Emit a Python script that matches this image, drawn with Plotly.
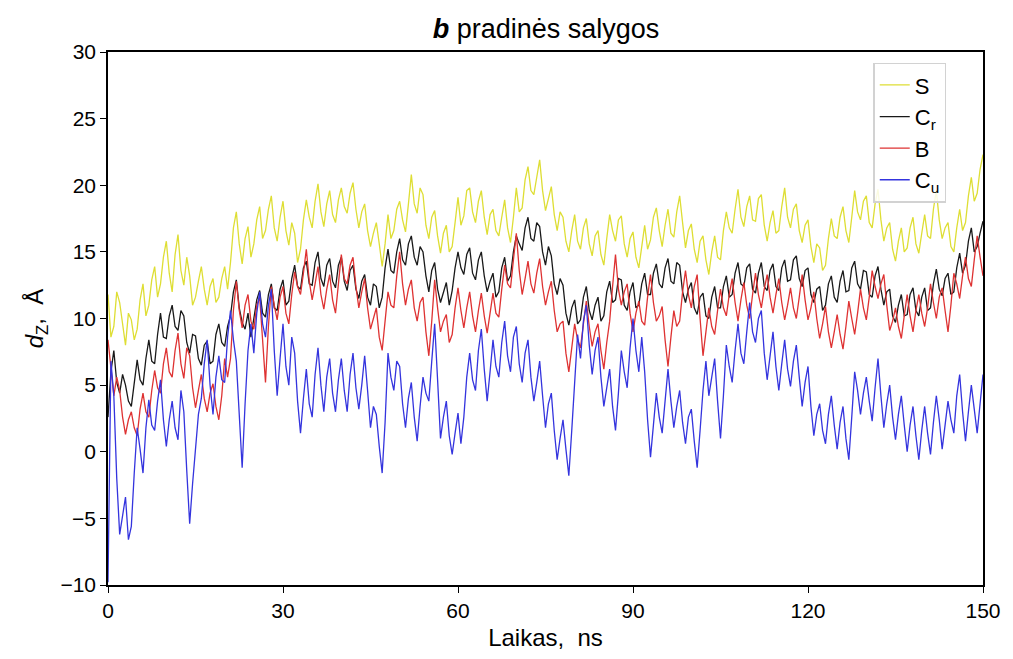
import plotly.graph_objects as go

# sampling every 0.5 ns from 0 to 150 ns
time_ns = [i * 0.5 for i in range(301)]

S = [11.8, 8.6, 9.4, 12.0, 11.2, 9.6, 8.0, 10.4, 9.9, 8.4, 9.2, 11.4, 12.6, 10.2, 11.0, 12.9, 13.9, 11.6, 12.6, 14.6,
     15.8, 13.4, 12.0, 14.8, 16.3, 13.6, 12.5, 14.6, 13.2, 11.0, 11.6, 12.8, 13.9, 12.2, 11.0, 12.4, 13.0, 11.2, 11.6, 13.0,
     13.9, 12.2, 14.2, 16.8, 18.0, 15.6, 14.1, 16.0, 16.9, 14.6, 15.6, 17.4, 18.4, 16.0, 16.6, 18.2, 19.2, 16.8, 15.8, 17.6,
     18.8, 16.6, 15.5, 17.2, 16.4, 14.2, 15.2, 17.4, 18.9, 17.6, 16.8, 18.8, 20.1, 18.0, 16.9, 18.6, 19.6, 17.8, 17.2, 18.9,
     19.8, 18.4, 17.9, 19.4, 20.2, 18.2, 16.8, 18.0, 18.6, 16.6, 15.4, 16.4, 17.2, 15.6, 13.9, 15.6, 17.8, 16.0, 16.6, 18.2,
     18.8, 17.4, 16.5, 18.6, 20.8, 18.6, 17.9, 19.8, 19.3, 17.0, 16.0, 17.6, 18.1, 16.2, 14.9, 16.4, 17.0, 15.0, 15.4, 17.2,
     19.1, 17.0, 17.7, 19.6, 19.8, 18.0, 17.2, 18.8, 19.6, 17.6, 16.3, 17.8, 18.2, 16.6, 16.2, 17.6, 18.9, 16.8, 15.7, 17.6,
     19.8, 18.0, 18.3, 20.4, 21.4, 19.6, 19.3, 20.6, 21.9, 19.6, 18.1, 19.0, 19.9, 17.8, 16.6, 18.0, 17.6, 15.8, 15.0, 16.6,
     17.8, 15.8, 15.2, 16.8, 17.5, 15.6, 14.7, 16.2, 16.6, 14.8, 14.0, 16.0, 17.8, 16.6, 15.8, 17.4, 17.7, 15.6, 14.6, 16.0,
     16.5, 14.6, 13.8, 15.4, 17.0, 15.2, 15.9, 17.6, 18.3, 16.6, 15.4, 17.0, 18.2, 16.4, 16.1, 18.0, 19.2, 17.2, 15.3, 16.6,
     17.1, 15.2, 14.2, 15.8, 16.2, 14.4, 13.3, 15.0, 16.2, 14.6, 14.4, 16.6, 18.0, 16.8, 16.4, 18.2, 19.7, 17.6, 16.9, 18.4,
     19.2, 17.4, 17.3, 19.0, 19.3, 17.0, 15.8, 17.2, 18.1, 16.4, 16.6, 18.4, 19.8, 17.6, 16.8, 18.2, 18.6, 16.6, 15.7, 17.0,
     17.4, 15.4, 14.2, 15.6, 15.3, 13.6, 14.0, 16.0, 17.5, 16.2, 16.0, 17.6, 18.4, 16.6, 15.7, 17.6, 19.6, 18.0, 17.4, 18.8,
     19.2, 17.2, 16.8, 18.6, 19.7, 17.4, 15.8, 16.8, 17.2, 15.2, 14.3, 15.8, 16.8, 15.0, 15.3, 16.8, 17.6, 15.6, 14.9, 16.4,
     17.8, 16.2, 16.0, 18.2, 19.6, 17.4, 16.0, 16.8, 17.2, 15.4, 15.0, 16.8, 18.2, 16.6, 17.2, 19.2, 20.6, 18.8, 19.4, 21.2,
     22.3]

Cr = [2.6, 6.0, 7.6, 5.2, 4.4, 5.8, 5.0, 3.8, 3.4, 5.4, 6.9, 5.4, 5.0, 7.0, 8.4, 6.8, 6.6, 8.8, 10.4, 8.6,
      8.5, 10.2, 11.0, 9.4, 9.1, 10.6, 10.2, 8.2, 7.4, 8.8, 8.7, 7.0, 6.5, 8.0, 8.3, 6.6, 6.8, 8.8, 9.6, 8.2,
      7.9, 9.4, 10.2, 12.0, 12.9, 10.8, 9.7, 9.2, 10.4, 8.6, 9.9, 11.4, 12.1, 10.4, 10.1, 11.8, 12.6, 10.8, 10.6, 12.2,
      12.9, 11.0, 11.3, 13.0, 14.0, 12.4, 12.2, 13.8, 14.3, 12.6, 12.5, 14.2, 15.0, 13.0, 12.4, 14.0, 14.5, 12.8, 12.3, 14.0,
      14.6, 12.8, 12.1, 13.6, 14.0, 12.2, 11.5, 12.8, 13.3, 11.6, 11.0, 12.6, 12.4, 10.8, 11.6, 13.8, 15.2, 13.6, 13.4, 15.0,
      16.0, 14.4, 14.0, 15.6, 16.2, 14.6, 14.0, 15.4, 15.0, 13.2, 12.0, 13.6, 14.2, 12.2, 11.2, 12.0, 12.7, 11.0, 12.1, 13.8,
      15.0, 13.8, 13.3, 14.8, 15.3, 13.4, 12.9, 14.4, 15.0, 13.2, 12.0, 12.8, 13.4, 11.6, 12.0, 13.8, 14.6, 12.8, 13.2, 15.0,
      16.2, 15.6, 15.1, 16.8, 17.6, 16.0, 15.8, 17.2, 16.9, 15.0, 14.0, 15.4, 14.7, 12.6, 11.8, 13.0, 12.5, 10.4, 9.5, 10.8,
      11.4, 9.6, 9.9, 11.6, 12.4, 10.6, 9.9, 11.0, 11.6, 9.8, 10.2, 12.0, 12.8, 11.2, 11.4, 13.0, 12.9, 11.0, 10.6, 12.0,
      12.7, 10.8, 11.0, 12.6, 13.4, 11.8, 11.8, 13.4, 14.1, 12.6, 12.3, 13.8, 14.5, 12.8, 12.6, 14.2, 14.0, 12.0, 11.2, 12.2,
      12.7, 10.8, 10.3, 11.6, 11.9, 10.2, 10.0, 11.6, 12.4, 10.8, 10.8, 12.4, 13.2, 11.6, 11.8, 13.4, 14.2, 12.6, 12.4, 13.8,
      14.1, 12.2, 11.9, 13.4, 14.2, 12.4, 12.1, 13.6, 14.1, 12.4, 12.1, 13.8, 14.4, 12.8, 12.9, 14.4, 14.7, 13.0, 12.4, 13.6,
      13.8, 11.8, 11.2, 12.2, 12.4, 10.6, 11.0, 12.6, 13.2, 11.6, 11.2, 12.8, 13.6, 12.0, 12.1, 13.8, 14.3, 12.6, 12.2, 13.6,
      13.5, 11.8, 11.6, 13.2, 13.9, 12.2, 11.0, 12.0, 12.2, 10.2, 9.7, 11.0, 11.8, 10.2, 10.3, 11.8, 12.3, 10.6, 10.2, 11.6,
      12.3, 10.6, 10.8, 12.6, 13.7, 12.2, 11.7, 13.0, 13.4, 11.8, 12.0, 13.8, 14.9, 13.4, 14.0, 15.8, 16.8, 15.0, 15.4, 16.4,
      17.3]

B = [8.4, 6.4, 4.2, 5.6, 4.6, 2.6, 1.3, 2.4, 3.0, 1.8, 1.2, 3.2, 4.4, 3.0, 2.6, 4.6, 6.1, 4.8, 4.4, 6.6,
     7.8, 6.0, 5.6, 7.6, 8.9, 6.6, 5.5, 7.8, 7.2, 4.8, 3.3, 4.6, 5.8, 4.0, 3.0, 4.4, 5.1, 3.4, 2.4, 4.2,
     7.0, 5.6, 7.0, 10.6, 12.8, 10.6, 9.3, 11.0, 11.8, 9.8, 9.2, 11.0, 11.6, 8.4, 5.2, 9.4, 12.4, 11.0, 9.9, 11.6,
     12.4, 10.4, 9.6, 11.8, 13.5, 12.4, 11.8, 13.4, 15.2, 12.8, 11.4, 12.6, 13.9, 11.8, 10.7, 12.2, 13.3, 11.4, 10.4, 12.6,
     14.8, 13.0, 12.6, 14.0, 14.6, 12.4, 10.8, 12.0, 13.0, 10.8, 9.2, 10.0, 10.8, 8.6, 7.6, 9.8, 12.0, 11.0, 10.8, 13.2,
     15.0, 12.6, 11.0, 12.2, 12.9, 10.8, 9.8, 11.2, 11.6, 9.0, 7.2, 9.8, 12.9, 10.8, 9.0, 9.8, 10.3, 8.2, 8.8, 10.8,
     12.3, 10.6, 9.3, 10.8, 12.0, 10.2, 9.0, 10.6, 11.9, 10.2, 8.9, 10.4, 11.9, 10.4, 10.1, 12.2, 14.0, 12.6, 12.3, 14.4,
     16.4, 13.6, 11.8, 13.0, 14.3, 12.6, 11.9, 13.4, 14.5, 12.4, 11.0, 12.0, 12.8, 10.6, 9.0, 9.6, 9.8, 7.4, 6.0, 7.8,
     9.6, 8.4, 7.8, 9.6, 11.3, 9.4, 7.9, 9.0, 9.6, 7.6, 6.2, 8.2, 9.8, 12.4, 14.8, 12.2, 11.0, 12.0, 12.6, 10.4,
     9.0, 10.4, 11.3, 9.8, 9.5, 11.6, 13.3, 11.2, 9.8, 10.2, 10.9, 8.4, 6.4, 8.6, 10.6, 9.4, 9.8, 12.0, 13.6, 11.8,
     10.8, 12.4, 13.3, 10.0, 7.2, 9.0, 10.8, 9.4, 8.8, 10.6, 12.2, 10.8, 10.2, 11.8, 13.0, 11.2, 9.8, 11.4, 12.7, 11.0,
     10.0, 11.8, 13.4, 11.8, 10.8, 12.2, 13.3, 11.6, 10.4, 11.8, 13.0, 11.2, 9.9, 11.0, 12.3, 10.8, 10.0, 11.6, 13.3, 11.4,
     9.9, 10.8, 12.0, 10.0, 8.5, 9.6, 10.9, 9.0, 7.8, 9.0, 10.3, 8.8, 7.7, 9.4, 11.3, 10.0, 8.8, 10.4, 12.2, 10.8,
     9.9, 11.6, 13.6, 12.4, 11.5, 12.6, 13.3, 11.0, 9.1, 9.8, 10.8, 9.4, 8.5, 10.2, 11.8, 10.2, 9.0, 10.6, 11.8, 10.4,
     9.4, 10.8, 12.6, 11.2, 10.0, 11.6, 12.3, 10.6, 9.0, 11.0, 13.4, 12.6, 11.5, 13.2, 14.6, 13.0, 12.4, 14.4, 16.2, 14.6,
     13.2]

Cu = [-9.8, 6.8, 4.2, -2.0, -6.2, -4.8, -3.4, -6.6, -5.6, -1.6, 1.8, 0.2, -1.6, 1.8, 3.9, 2.0, 1.6, 3.8, 5.4, 2.4,
      0.4, 2.4, 3.8, 1.8, 0.9, 4.6, 3.0, -1.4, -5.4, -2.4, 0.2, 2.8, 4.0, 6.6, 8.4, 5.0, 2.8, 5.6, 7.2, 5.4,
      5.2, 8.6, 10.6, 8.4, 6.8, 2.6, -1.2, 3.6, 7.6, 9.6, 7.4, 10.4, 12.0, 9.6, 8.6, 11.0, 12.2, 7.6, 4.2, 7.0,
      9.6, 6.4, 5.0, 8.6, 7.4, 3.8, 1.4, 4.0, 6.2, 3.6, 2.6, 5.8, 7.8, 5.0, 3.0, 5.6, 7.0, 4.4, 3.0, 5.4,
      7.0, 4.6, 3.0, 5.8, 7.4, 4.8, 3.2, 5.0, 7.2, 4.6, 1.8, 3.4, 2.8, 0.4, -1.6, 2.2, 7.4, 5.6, 4.6, 6.8,
      6.4, 3.6, 1.8, 4.0, 5.2, 2.6, 0.8, 3.4, 5.6, 4.4, 3.8, 6.8, 9.6, 5.4, 1.0, 2.6, 3.8, 1.2, -0.2, 1.4,
      2.9, 0.6, 2.6, 5.6, 7.4, 5.4, 4.6, 7.6, 9.2, 6.2, 3.8, 6.0, 8.4, 6.4, 5.6, 8.2, 9.8, 7.2, 6.0, 8.6,
      9.4, 6.6, 5.2, 7.4, 8.4, 5.6, 3.8, 5.2, 6.8, 4.2, 1.8, 3.6, 4.4, 1.6, -0.6, 1.0, 2.4, 0.2, -1.8, 1.6,
      5.4, 8.8, 7.0, 9.8, 11.0, 8.0, 5.8, 7.6, 8.6, 5.6, 3.4, 4.8, 6.2, 3.4, 1.6, 4.4, 7.6, 6.0, 4.8, 7.8,
      10.0, 7.6, 6.0, 8.6, 6.0, 2.4, -0.4, 2.0, 4.4, 2.6, 1.4, 3.8, 6.2, 3.8, 1.8, 3.4, 4.6, 2.2, 0.6, 2.6,
      3.2, 0.8, -1.2, 1.6, 4.6, 6.8, 4.2, 5.6, 7.0, 3.8, 1.0, 4.2, 8.0, 6.4, 5.2, 7.6, 9.6, 7.4, 6.6, 9.0,
      11.2, 9.0, 8.2, 10.0, 10.6, 7.4, 5.4, 7.2, 9.0, 6.4, 4.6, 6.6, 8.4, 6.2, 4.9, 6.8, 8.0, 5.6, 3.4, 5.2,
      6.4, 3.4, 1.2, 2.8, 3.6, 1.6, 0.6, 2.8, 4.2, 2.0, 0.2, 2.2, 3.4, 1.0, -0.6, 2.6, 6.0, 4.6, 2.8, 4.4,
      5.6, 3.8, 2.3, 4.8, 7.0, 4.2, 1.8, 3.6, 5.0, 2.6, 0.9, 2.8, 4.2, 2.0, 0.0, 2.0, 3.4, 1.2, -0.6, 1.6,
      3.4, 1.4, -0.2, 2.2, 4.2, 2.4, 0.2, 2.0, 3.8, 2.4, 1.4, 4.2, 5.8, 3.0, 0.8, 3.0, 5.0, 3.2, 1.4, 3.6,
      5.8]

series = [
    ("S", S, "rgb(222,222,52)"),
    ("C<sub>r</sub>", Cr, "rgb(25,25,25)"),
    ("B", B, "rgb(222,50,50)"),
    ("C<sub>u</sub>", Cu, "rgb(52,52,222)"),
]

x_ticks = [0, 30, 60, 90, 120, 150]
y_ticks = [-10, -5, 0, 5, 10, 15, 20, 25, 30]

fig = go.Figure()
for name, vals, color in series:
    fig.add_trace(go.Scatter(x=time_ns, y=vals, mode="lines", name=name,
                             line=dict(color=color, width=1.3)))

font_family = "Liberation Sans, Arial, sans-serif"
fig.update_layout(
    width=1013, height=659,
    margin=dict(l=108, r=27, t=52, b=74),
    paper_bgcolor="white", plot_bgcolor="white",
    font=dict(family=font_family, size=21, color="black"),
    title=dict(text="<b><i>b</i></b> pradinės salygos", x=0.539, xanchor="center",
               y=0.957, yanchor="middle", font=dict(size=27)),
    legend=dict(x=0.958, xanchor="right", y=0.98, yanchor="top",
                bgcolor="rgba(255,255,255,0.85)", bordercolor="rgb(210,210,210)", borderwidth=1.5,
                font=dict(size=22), tracegroupgap=0, itemwidth=30),
    showlegend=True,
)
fig.update_xaxes(range=[0, 150], tickvals=x_ticks, ticktext=[str(v) for v in x_ticks],
                 showline=True, linecolor="black", linewidth=1.5, mirror=True,
                 ticks="outside", ticklen=6, tickwidth=1.3, tickcolor="black",
                 showgrid=False, zeroline=False,
                 title=dict(text="Laikas,  ns", font=dict(size=24), standoff=8))
fig.update_yaxes(range=[-10, 30], tickvals=y_ticks, ticktext=[("−" + str(-v)) if v < 0 else str(v) for v in y_ticks],
                 showline=True, linecolor="black", linewidth=1.5, mirror=True,
                 ticks="outside", ticklen=6, tickwidth=1.3, tickcolor="black",
                 showgrid=False, zeroline=False,
                 title=dict(text="<i>d</i><sub>Z</sub>,  Å", font=dict(size=24), standoff=10))

fig.write_html("out.html")
